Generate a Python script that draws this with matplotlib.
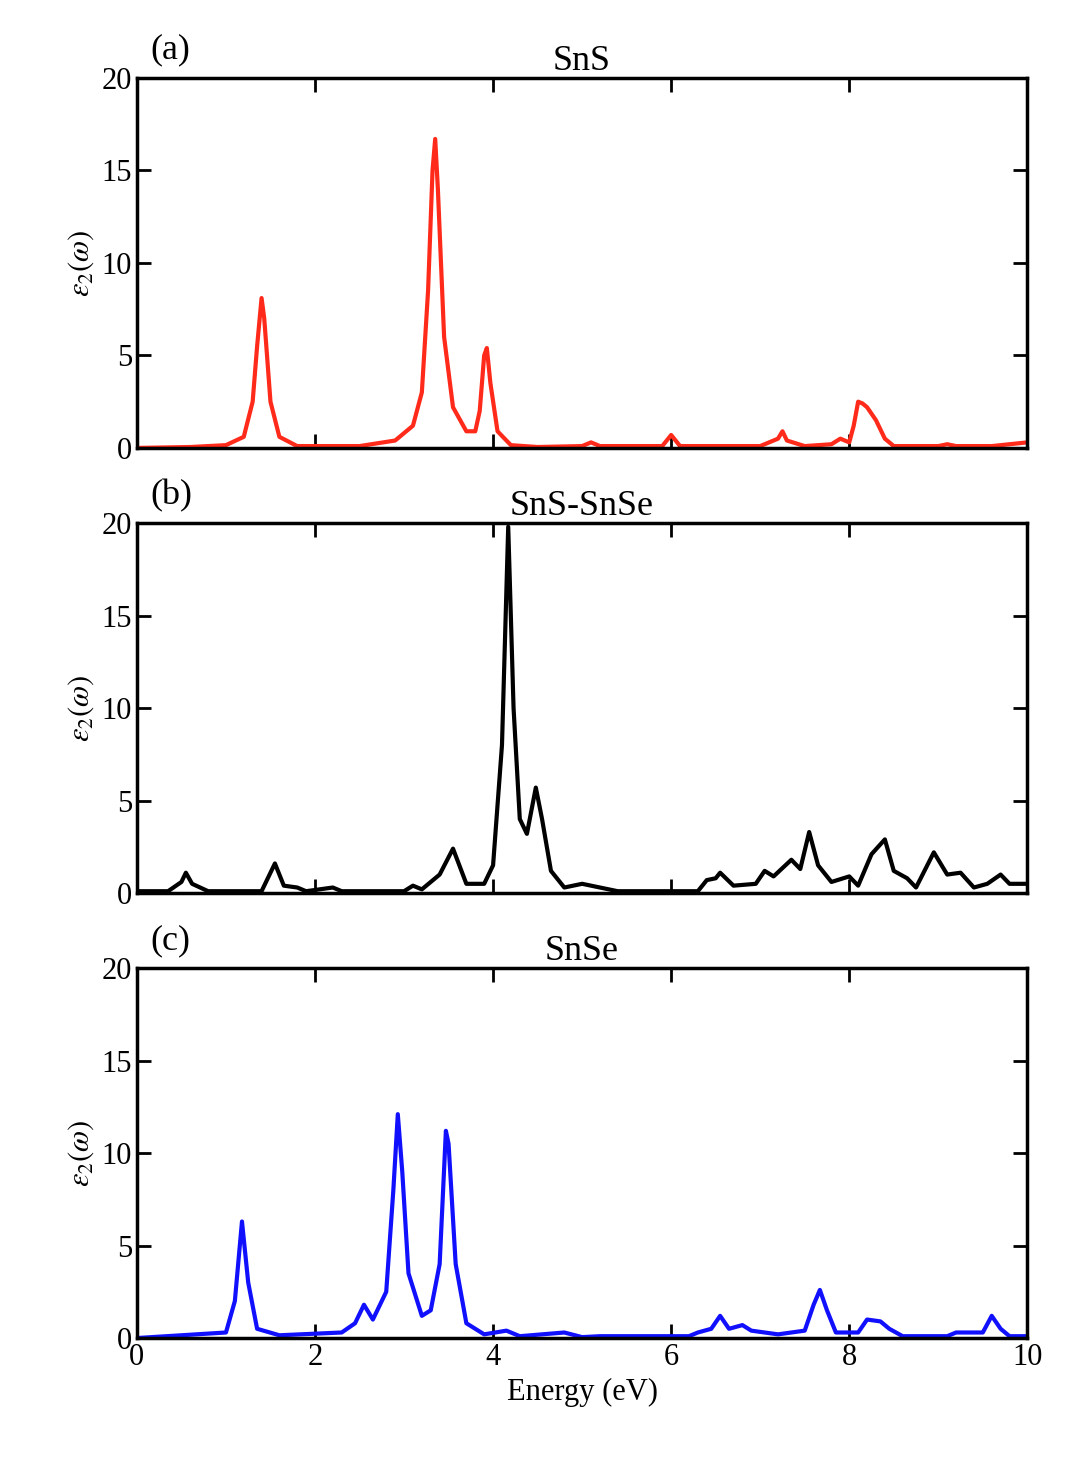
import matplotlib
matplotlib.use("Agg")
import matplotlib.pyplot as plt

plt.rcParams['font.family'] = ['Liberation Serif', 'DejaVu Serif']
plt.rcParams['mathtext.fontset'] = 'stix'

x_a = [0,0.6,1.0,1.2,1.3,1.35,1.4,1.43,1.5,1.6,1.8,2.5,2.9,3.1,3.2,3.27,3.32,3.35,3.38,3.45,3.55,3.7,3.8,3.85,3.9,3.93,3.97,4.05,4.2,4.5,5.0,5.1,5.2,5.9,6.0,6.1,7.0,7.2,7.25,7.3,7.5,7.8,7.9,8.0,8.05,8.1,8.15,8.2,8.3,8.4,8.5,9.0,9.1,9.2,9.6,10]
y_a = [0,0.05,0.15,0.6,2.5,5.5,8.1,7.0,2.5,0.6,0.1,0.1,0.4,1.2,3.0,8.5,15,16.7,14,6,2.2,0.9,0.9,2,5.0,5.4,3.5,0.9,0.15,0.05,0.1,0.3,0.1,0.1,0.7,0.1,0.1,0.5,0.9,0.4,0.1,0.2,0.5,0.3,1.2,2.5,2.4,2.2,1.5,0.5,0.1,0.1,0.2,0.1,0.1,0.3]

x_b = [0,0.35,0.5,0.55,0.62,0.8,1.4,1.55,1.65,1.8,1.9,2.2,2.3,3.0,3.1,3.2,3.4,3.55,3.7,3.9,4.0,4.1,4.17,4.23,4.3,4.38,4.48,4.55,4.65,4.8,5.0,5.2,5.4,6.3,6.4,6.5,6.55,6.7,6.95,7.05,7.15,7.35,7.45,7.55,7.65,7.8,8.0,8.1,8.25,8.4,8.5,8.65,8.75,8.95,9.1,9.25,9.4,9.55,9.7,9.8,10]
y_b = [0.1,0.1,0.6,1.1,0.5,0.1,0.1,1.6,0.4,0.3,0.1,0.3,0.1,0.1,0.4,0.2,1.0,2.4,0.5,0.5,1.5,8,19.8,10,4,3.2,5.7,4,1.2,0.3,0.5,0.3,0.1,0.1,0.7,0.8,1.1,0.4,0.5,1.2,0.9,1.8,1.3,3.3,1.5,0.6,0.9,0.4,2.1,2.9,1.2,0.8,0.3,2.2,1.0,1.1,0.3,0.5,1.0,0.5,0.5]

x_c = [0,0.5,1.0,1.1,1.18,1.25,1.35,1.6,2.3,2.45,2.55,2.65,2.8,2.88,2.93,2.98,3.05,3.2,3.3,3.4,3.47,3.5,3.58,3.7,3.9,4.15,4.3,4.8,5.0,5.2,5.6,6.2,6.3,6.45,6.55,6.65,6.8,6.9,7.2,7.5,7.6,7.67,7.75,7.85,8.1,8.2,8.35,8.45,8.6,9.1,9.2,9.5,9.6,9.7,9.8,10]
y_c = [0,0.15,0.3,2,6.3,3,0.5,0.15,0.3,0.8,1.8,1.0,2.5,8,12.1,9,3.5,1.2,1.5,4,11.2,10.5,4,0.8,0.2,0.4,0.1,0.3,0.05,0.1,0.1,0.1,0.3,0.5,1.2,0.5,0.7,0.4,0.2,0.4,1.8,2.6,1.5,0.3,0.3,1.0,0.9,0.5,0.1,0.1,0.3,0.3,1.2,0.5,0.1,0.1]

titles = ['SnS', 'SnS-SnSe', 'SnSe']
tags = ['(a)', '(b)', '(c)']
colors = ['#ff2a1a', '#000000', '#1010ff']
series = [(x_a, y_a), (x_b, y_b), (x_c, y_c)]
bottoms = [0.6957, 0.3933, 0.091]

fig = plt.figure(figsize=(10.78, 14.72), dpi=100)
for i in range(3):
    ax = fig.add_axes([0.127, bottoms[i], 0.826, 0.2514])
    x, y = series[i]
    ax.plot(x, y, color=colors[i], lw=3)
    ax.set_xlim(0, 10)
    ax.set_ylim(0, 20)
    ax.set_xticks([0, 2, 4, 6, 8, 10])
    ax.set_yticks([0, 5, 10, 15, 20])
    ax.tick_params(direction='in', length=10, width=2, labelsize=22, top=True, right=True)
    for s in ax.spines.values():
        s.set_linewidth(2.5)
    if i < 2:
        ax.set_xticklabels([])
    else:
        ax.set_xlabel('Energy (eV)', fontsize=22)
    ax.set_ylabel(r'$\varepsilon_2(\omega)$', fontsize=22)
    ax.set_title(titles[i], fontsize=26, pad=6)
    ax.text(0.015, 1.03, tags[i], transform=ax.transAxes, fontsize=26, va='bottom')

fig.savefig('out.png', dpi=100)
